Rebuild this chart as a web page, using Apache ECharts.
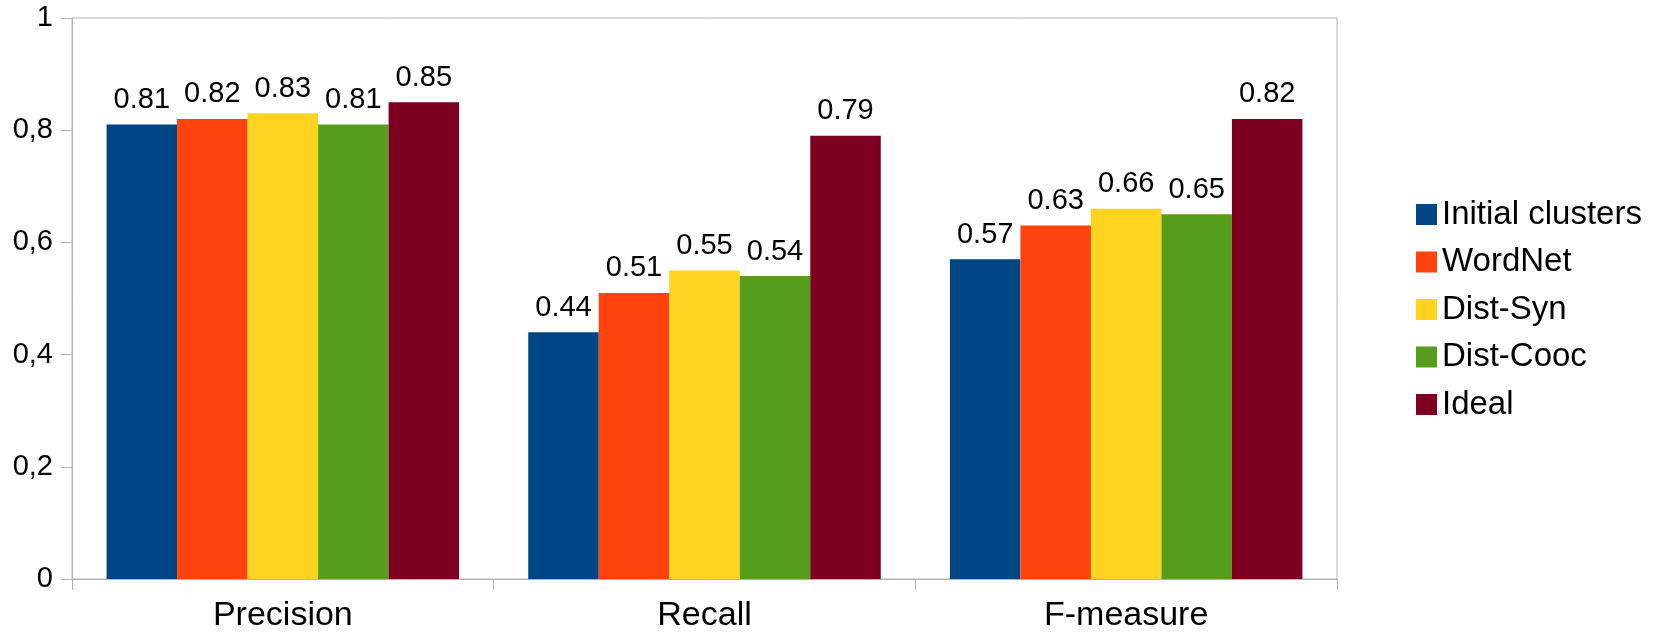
<!DOCTYPE html>
<html>
<head>
<meta charset="utf-8">
<title>Clustering evaluation</title>
<script src="https://cdn.jsdelivr.net/npm/echarts@6/dist/echarts.min.js"></script>
<style>
  html, body { margin: 0; padding: 0; background: #ffffff; }
  #chart { width: 1657px; height: 633px; }
</style>
</head>
<body>
<div id="chart"></div>
<script>
// Evaluation metrics (x axis)
const categories = ['Precision', 'Recall', 'F-measure'];

// One list per clustering method, in metric order
const initialClusters = [0.81, 0.44, 0.57];
const wordNet        = [0.82, 0.51, 0.63];
const distSyn        = [0.83, 0.55, 0.66];
const distCooc       = [0.81, 0.54, 0.65];
const ideal          = [0.85, 0.79, 0.82];

const seriesNames  = ['Initial clusters', 'WordNet', 'Dist-Syn', 'Dist-Cooc', 'Ideal'];
const seriesValues = [initialClusters, wordNet, distSyn, distCooc, ideal];
const palette      = ['#004586', '#ff420e', '#ffd320', '#579d1c', '#7e0021'];

const FONT = '"Liberation Sans", Arial, sans-serif';
const AXIS_GRAY = '#b3b3b3';

const chart = echarts.init(document.getElementById('chart'), null, { renderer: 'canvas' });

chart.setOption({
  animation: false,
  backgroundColor: '#ffffff',
  textStyle: { fontFamily: FONT, color: '#000000' },
  grid: {
    left: 72, right: 320, top: 18, bottom: 54,
    show: true, borderColor: AXIS_GRAY, borderWidth: 1, backgroundColor: 'transparent'
  },
  legend: {
    orient: 'vertical',
    left: 1411,
    top: 193,
    itemWidth: 21,
    itemHeight: 21,
    itemGap: 14.5,
    icon: 'rect',
    data: seriesNames,
    textStyle: {
      fontFamily: FONT, fontSize: 33, color: '#000000',
      lineHeight: 33, padding: [0, 0, 0, 0]
    }
  },
  xAxis: {
    type: 'category',
    data: categories,
    axisLine: { lineStyle: { color: AXIS_GRAY, width: 1 } },
    axisTick: { show: true, length: 11, alignWithLabel: false, lineStyle: { color: AXIS_GRAY } },
    axisLabel: { fontFamily: FONT, fontSize: 34, color: '#000000', margin: 20 },
    splitLine: { show: false }
  },
  yAxis: {
    type: 'value',
    min: 0,
    max: 1,
    interval: 0.2,
    axisLine: { show: true, lineStyle: { color: AXIS_GRAY, width: 1 } },
    axisTick: { show: true, length: 11, lineStyle: { color: AXIS_GRAY } },
    axisLabel: {
      fontFamily: FONT, fontSize: 29, color: '#000000', margin: 19,
      formatter: v => String(Math.round(v * 10) / 10).replace('.', ',')
    },
    splitLine: { show: false }
  },
  series: seriesNames.map((name, i) => ({
    name,
    type: 'bar',
    data: seriesValues[i],
    barGap: '0%',
    barCategoryGap: '16.4%',
    itemStyle: { color: palette[i] },
    label: {
      show: true,
      position: 'top',
      distance: 10,
      fontFamily: FONT,
      fontSize: 29,
      color: '#000000',
      formatter: p => p.value.toFixed(2)
    }
  }))
});
</script>
</body>
</html>
